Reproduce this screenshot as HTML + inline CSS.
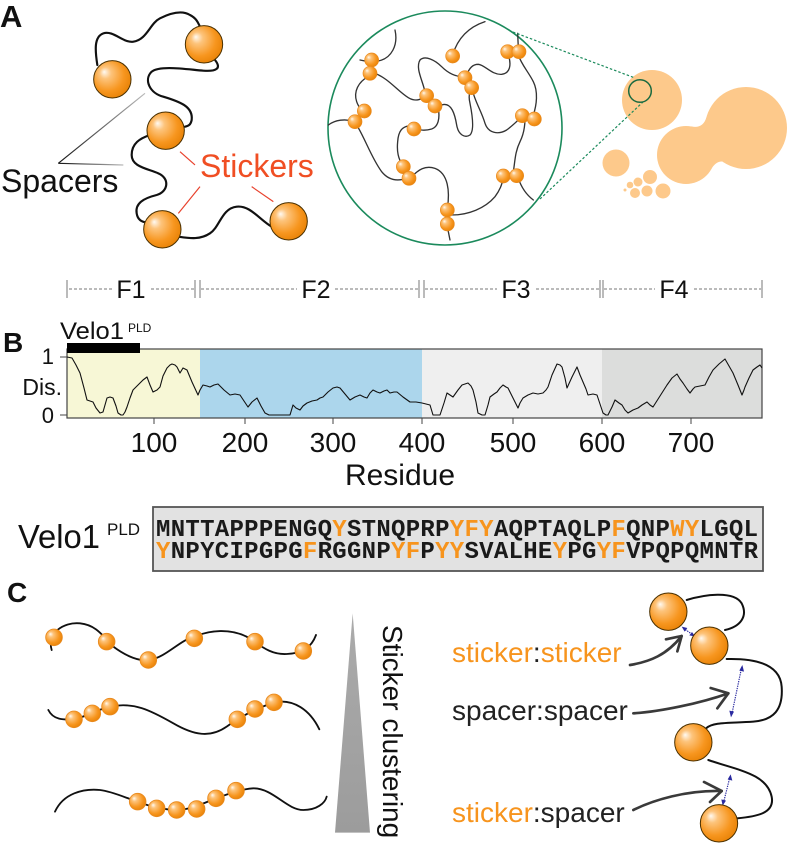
<!DOCTYPE html>
<html><head><meta charset="utf-8"><style>
html,body{margin:0;padding:0;background:#fff;}
svg{display:block;font-family:"Liberation Sans",sans-serif;}
text.mono{font-family:"Liberation Mono",monospace;font-weight:bold;}
</style></head><body>
<svg width="788" height="846" viewBox="0 0 788 846" xmlns="http://www.w3.org/2000/svg">
<defs>
<radialGradient id="sph" cx="0.42" cy="0.42" r="0.62" fx="0.28" fy="0.3">
<stop offset="0" stop-color="#fffaf2"/>
<stop offset="0.25" stop-color="#fdc47c"/>
<stop offset="0.7" stop-color="#f7961f"/>
<stop offset="1" stop-color="#e88206"/>
</radialGradient>
<linearGradient id="tri" x1="0" y1="0" x2="0" y2="1">
<stop offset="0" stop-color="#ababab"/>
<stop offset="1" stop-color="#9c9c9c"/>
</linearGradient>
<linearGradient id="spl1" gradientUnits="userSpaceOnUse" x1="175" y1="490" x2="435" y2="280">
<stop offset="0" stop-color="#111"/><stop offset="1" stop-color="#bbb"/>
</linearGradient>
<linearGradient id="spl2" gradientUnits="userSpaceOnUse" x1="175" y1="490" x2="370" y2="495">
<stop offset="0" stop-color="#111"/><stop offset="1" stop-color="#bbb"/>
</linearGradient>
</defs>

<!-- Panel letters -->
<text x="0" y="27" font-size="31" font-weight="bold" fill="#111">A</text>
<text x="3" y="352" font-size="28" font-weight="bold" fill="#111">B</text>
<text x="7" y="602" font-size="28" font-weight="bold" fill="#111">C</text>

<!-- Panel A left: chain -->
<g transform="scale(0.33333)">
<g fill="none" stroke="#111" stroke-width="6.5" stroke-linecap="round">
<path d="M 292,195 C 285,150 282,110 310,100 C 340,90 370,130 400,125 C 440,120 450,70 480,55 C 510,40 545,30 570,45 C 590,55 595,70 600,80"/>
<path d="M 645,180 C 665,205 650,215 610,212 C 560,208 480,195 455,215 C 430,240 450,280 490,290 C 540,305 580,320 575,360 C 572,375 565,378 555,380"/>
<path d="M 450,405 C 420,415 395,430 395,465 C 395,500 440,505 475,520 C 510,535 505,575 470,585 C 430,595 405,610 410,640 C 413,660 425,665 440,668"/>
<path d="M 535,710 C 570,715 600,720 630,700 C 660,680 665,625 710,620 C 750,615 780,660 815,680"/>
</g>
<line x1="175" y1="490" x2="435" y2="280" stroke="url(#spl1)" stroke-width="3.5"/>
<line x1="175" y1="490" x2="370" y2="495" stroke="url(#spl2)" stroke-width="3.5"/>
<g stroke="#e8412c" stroke-width="3.5">
<line x1="540" y1="455" x2="585" y2="495"/>
<line x1="600" y1="560" x2="535" y2="640"/>
<line x1="755" y1="560" x2="820" y2="605"/>
</g>
<g fill="url(#sph)" stroke="#4a3000" stroke-width="3">
<circle cx="612" cy="133" r="56"/>
<circle cx="337" cy="238" r="56"/>
<circle cx="497" cy="392" r="56"/>
<circle cx="487" cy="688" r="56"/>
<circle cx="866" cy="664" r="56"/>
</g>
</g>
<text x="1" y="192" font-size="32" fill="#111">Spacers</text>
<text x="200" y="177" font-size="32" fill="#f04e23">Stickers</text>

<!-- Panel A middle: network -->
<circle cx="445" cy="128" r="117" fill="none" stroke="#1b8a5c" stroke-width="1.6"/>
<g transform="translate(325,5) scale(0.33333)">
<g fill="none" stroke="#333" stroke-width="4" stroke-linecap="round">
<path d="M 210,75 C 220,120 200,160 160,168"/>
<path d="M 130,215 C 100,230 85,260 95,290 C 100,305 105,310 112,318"/>
<path d="M 90,350 C 60,340 30,345 10,360"/>
<path d="M 95,360 C 120,400 140,460 170,500 C 190,525 215,530 245,520"/>
<path d="M 150,205 C 190,220 220,260 250,278 C 270,290 285,285 300,275"/>
<path d="M 300,262 C 295,230 270,190 285,165 C 300,150 330,165 350,185 C 370,205 390,215 415,215"/>
<path d="M 340,310 C 345,340 340,365 320,372 C 300,378 285,375 270,372"/>
<path d="M 350,300 C 380,290 390,330 395,360 C 400,390 420,400 435,390 C 450,375 440,320 435,295 C 430,275 432,262 440,250"/>
<path d="M 260,362 C 230,362 220,380 218,410 C 215,440 220,460 232,480"/>
<path d="M 260,515 C 280,495 300,480 330,490 C 370,505 375,560 367,610"/>
<path d="M 380,630 C 430,630 480,610 510,575 C 525,555 530,540 535,520"/>
<path d="M 367,665 L 375,705"/>
<path d="M 580,520 C 590,550 605,570 625,585"/>
<path d="M 565,500 C 570,470 570,440 585,410 C 595,390 600,370 600,340"/>
<path d="M 625,330 C 635,300 640,260 625,230 C 610,200 590,180 580,150"/>
<path d="M 580,130 L 578,85"/>
<path d="M 550,150 C 560,180 555,205 530,208 C 500,210 480,180 460,178 C 440,178 430,195 425,212"/>
<path d="M 442,255 C 450,290 470,320 480,355 C 490,385 520,390 545,375 C 565,360 580,345 590,335"/>
<path d="M 383,150 C 395,110 420,70 480,50"/>
<path d="M 105,165 L 130,170"/>
</g>
<g fill="url(#sph)" stroke="#e88a20" stroke-width="2">
<circle cx="140" cy="165" r="21"/><circle cx="135" cy="205" r="21"/>
<circle cx="118" cy="318" r="21"/><circle cx="90" cy="350" r="21"/>
<circle cx="305" cy="272" r="21"/><circle cx="330" cy="303" r="21"/>
<circle cx="383" cy="153" r="21"/>
<circle cx="420" cy="218" r="21"/><circle cx="440" cy="248" r="21"/>
<circle cx="548" cy="140" r="21"/><circle cx="582" cy="140" r="21"/>
<circle cx="592" cy="332" r="21"/><circle cx="628" cy="342" r="21"/>
<circle cx="267" cy="372" r="21"/>
<circle cx="235" cy="485" r="21"/><circle cx="252" cy="520" r="21"/>
<circle cx="535" cy="513" r="21"/><circle cx="575" cy="512" r="21"/>
<circle cx="367" cy="615" r="21"/><circle cx="367" cy="657" r="21"/>
</g>
</g>

<!-- Droplets -->
<g fill="#fdc98b">
<circle cx="652" cy="100" r="30"/>
<circle cx="746" cy="128" r="41"/>
<circle cx="686" cy="155" r="29"/>
<path d="M 691,126.4 Q 703,129 706.4,117.4 L 722.5,161.6 Q 716,161 711,169.5 Z"/>
<circle cx="616" cy="163" r="13.5"/>
<circle cx="650" cy="177" r="7"/>
<circle cx="638" cy="182" r="4.5"/>
<circle cx="630" cy="185" r="3.3"/>
<circle cx="647" cy="191" r="5.5"/>
<circle cx="635" cy="193" r="5"/>
<circle cx="663" cy="191" r="7.5"/>
<circle cx="625" cy="190" r="1.5"/>
</g>
<g stroke="#1b8a5c" stroke-width="1.2" stroke-dasharray="2.5,2" fill="none">
<line x1="513" y1="32" x2="635" y2="78"/>
<line x1="540" y1="199" x2="643" y2="102"/>
</g>
<circle cx="640" cy="91" r="11.3" fill="none" stroke="#1b6a40" stroke-width="1.5"/>

<!-- Ruler -->
<g stroke="#777" stroke-width="1">
<line x1="67" y1="280" x2="67" y2="298"/>
<line x1="195" y1="280" x2="195" y2="298"/><line x1="200" y1="280" x2="200" y2="298"/>
<line x1="419" y1="280" x2="419" y2="298"/><line x1="424" y1="280" x2="424" y2="298"/>
<line x1="600" y1="280" x2="600" y2="298"/><line x1="603" y1="280" x2="603" y2="298"/>
<line x1="762" y1="280" x2="762" y2="298"/>
</g>
<g stroke="#777" stroke-width="1" stroke-dasharray="3,2">
<line x1="69" y1="289" x2="112" y2="289"/><line x1="151" y1="289" x2="194" y2="289"/>
<line x1="201" y1="289" x2="297" y2="289"/><line x1="335" y1="289" x2="418" y2="289"/>
<line x1="425" y1="289" x2="497" y2="289"/><line x1="536" y1="289" x2="599" y2="289"/>
<line x1="604" y1="289" x2="655" y2="289"/><line x1="694" y1="289" x2="761" y2="289"/>
</g>
<g font-size="25" fill="#111" text-anchor="middle">
<text x="131" y="298">F1</text>
<text x="316" y="298">F2</text>
<text x="516" y="298">F3</text>
<text x="674" y="298">F4</text>
</g>

<!-- Plot -->
<rect x="67" y="349" width="133" height="69" fill="#f7f7d6"/>
<rect x="200" y="349" width="222" height="69" fill="#acd6ec"/>
<rect x="422" y="349" width="180" height="69" fill="#efefef"/>
<rect x="602" y="349" width="160" height="69" fill="#dcdddc"/>
<rect x="67" y="349" width="695" height="69" fill="none" stroke="#444" stroke-width="1.2"/>
<polyline fill="none" stroke="#111" stroke-width="1.1" stroke-linejoin="round" points="67,357 72,358 76,365 80,373 84,388 87,400 90,401 93,402 96,408 100,413 103,412 107,398 110,397 113,398 116,406 118,413 121,415 123,415 125,412 127,407 130,398 133,390 137,386 140,383 143,380 147,377 150,385 153,392 157,390 160,387 163,376 167,368 170,365 172,364 175,365 177,367 180,373 183,368 185,369 187,370 192,382 198,395 200,390 203,385 207,386 210,387 214,385 218,384 224,390 230,395 235,394 240,395 244,401 248,407 252,402 257,398 261,406 265,413 269,415 273,415 280,415 290,415 293,405 296,408 300,410 303,406 307,403 312,401 317,400 320,398 323,397 328,392 333,388 337,387 340,388 345,394 350,400 355,397 360,395 364,397 367,398 370,393 373,390 377,392 380,393 384,391 387,390 390,393 394,392 397,392 403,397 410,402 416,402 422,403 426,404 430,405 433,415 436,415 440,415 444,403 447,393 450,395 453,397 458,390 462,385 465,384 468,383 471,386 473,390 476,402 478,413 482,415 485,415 488,405 490,397 494,394 497,392 500,388 503,385 506,387 508,388 513,398 518,408 520,403 523,398 528,395 533,393 538,394 543,393 546,390 548,387 552,375 557,364 560,365 562,367 565,378 567,388 572,377 577,367 580,375 583,382 586,389 588,395 593,394 597,395 600,404 603,413 606,415 608,415 612,407 615,400 619,403 622,405 625,410 628,413 633,410 638,408 642,405 647,402 650,405 653,407 660,396 667,385 672,378 677,374 680,379 683,383 687,389 690,393 693,389 695,387 700,386 705,385 709,377 713,370 719,364 725,359 729,366 733,373 738,385 742,395 744,390 745,387 749,378 753,370 757,367 760,365 762,368"/>
<g stroke="#444" stroke-width="1">
<line x1="60" y1="357" x2="67" y2="357"/><line x1="60" y1="415" x2="67" y2="415"/>
<line x1="154" y1="418" x2="154" y2="424"/><line x1="245" y1="418" x2="245" y2="424"/>
<line x1="333" y1="418" x2="333" y2="424"/><line x1="422" y1="418" x2="422" y2="424"/>
<line x1="513" y1="418" x2="513" y2="424"/><line x1="602" y1="418" x2="602" y2="424"/>
<line x1="691" y1="418" x2="691" y2="424"/>
</g>
<rect x="67" y="343" width="73" height="10" fill="#000"/>
<text x="60" y="339" font-size="24" fill="#111" textLength="64" lengthAdjust="spacingAndGlyphs">Velo1</text>
<text x="128" y="332" font-size="12" fill="#111">PLD</text>
<g font-size="22" fill="#111" text-anchor="end">
<text x="54" y="364">1</text>
<text x="54" y="423">0</text>
<text x="62" y="395" font-size="23">Dis.</text>
</g>
<g font-size="28" fill="#111" text-anchor="middle">
<text x="154" y="452">100</text>
<text x="245" y="452">200</text>
<text x="333" y="452">300</text>
<text x="422" y="452">400</text>
<text x="513" y="452">500</text>
<text x="602" y="452">600</text>
<text x="691" y="452">700</text>
<text x="400" y="485" font-size="30">Residue</text>
</g>

<!-- Sequence -->
<text x="18" y="548" font-size="33" fill="#111" textLength="82" lengthAdjust="spacingAndGlyphs">Velo1</text>
<text x="107" y="535" font-size="17" fill="#111">PLD</text>
<rect x="153" y="507" width="610" height="64" fill="#e2e2e2" stroke="#555" stroke-width="1.8"/>
<text class="mono" x="156" y="536" font-size="24" fill="#1a1a1a" textLength="602" lengthAdjust="spacing">MNTTAPPPENGQ<tspan fill="#f7941d">Y</tspan>STNQPRP<tspan fill="#f7941d">YFY</tspan>AQPTAQLP<tspan fill="#f7941d">F</tspan>QNP<tspan fill="#f7941d">WY</tspan>LGQL</text>
<text class="mono" x="156" y="558" font-size="24" fill="#1a1a1a" textLength="602" lengthAdjust="spacing"><tspan fill="#f7941d">Y</tspan>NPYCIPGPG<tspan fill="#f7941d">F</tspan>RGGNP<tspan fill="#f7941d">YF</tspan>P<tspan fill="#f7941d">YY</tspan>SVALHE<tspan fill="#f7941d">Y</tspan>PG<tspan fill="#f7941d">YF</tspan>VPQPQMNTR</text>

<!-- Panel C left -->
<g transform="translate(0,580) scale(0.33333)">
<g fill="none" stroke="#111" stroke-width="5.5" stroke-linecap="round">
<path d="M 155,210 C 140,160 190,125 240,130 C 290,135 310,170 340,200 C 380,230 420,245 450,240 C 500,230 540,180 583,170 C 630,150 690,145 740,170 C 780,195 810,225 860,222 C 910,220 935,200 948,165"/>
<path d="M 145,390 C 160,420 190,420 222,418 C 260,410 300,385 330,380 C 400,365 450,390 520,430 C 580,465 630,475 680,440 C 720,410 770,385 822,367 C 880,355 930,390 958,448"/>
<path d="M 165,695 C 190,640 250,625 300,630 C 340,635 380,655 413,665 C 450,680 500,690 530,690 C 570,690 610,670 648,655 C 690,640 720,628 760,625 C 820,625 860,690 910,690 C 950,690 975,670 980,650"/>
</g>
<g fill="url(#sph)" stroke="#e88a20" stroke-width="2.5">
<circle cx="162" cy="172" r="25"/><circle cx="320" cy="185" r="25"/><circle cx="445" cy="240" r="25"/>
<circle cx="583" cy="175" r="25"/><circle cx="765" cy="185" r="25"/><circle cx="910" cy="213" r="25"/>
<circle cx="222" cy="418" r="25"/><circle cx="277" cy="400" r="25"/><circle cx="330" cy="380" r="25"/>
<circle cx="712" cy="418" r="25"/><circle cx="765" cy="387" r="25"/><circle cx="822" cy="367" r="25"/>
<circle cx="413" cy="665" r="25"/><circle cx="470" cy="685" r="25"/><circle cx="530" cy="690" r="25"/>
<circle cx="590" cy="687" r="25"/><circle cx="648" cy="655" r="25"/><circle cx="708" cy="632" r="25"/>
</g>
<polygon points="1058,100 1110,758 1005,758" fill="url(#tri)"/>
</g>
<text transform="translate(383,625) rotate(90)" font-size="28" fill="#111">Sticker clustering</text>

<!-- Panel C right -->
<g transform="translate(420,580) scale(0.33333)">
<g fill="none" stroke="#111" stroke-width="6" stroke-linecap="round">
<path d="M 800,60 C 850,45 940,30 965,70 C 985,110 960,140 915,150"/>
<path d="M 920,237 C 1000,235 1080,250 1085,320 C 1090,390 1060,420 1000,425 C 930,430 880,425 858,445"/>
<path d="M 865,540 C 950,570 1040,580 1055,650 C 1065,700 1010,710 950,715"/>
</g>
<g fill="none" stroke="#3a3a3a" stroke-linecap="round" stroke-linejoin="round">
<path d="M 630,255 C 690,245 740,225 785,168" stroke-width="8"/>
<path d="M 738,178 L 785,168 L 772,214" stroke-width="8"/>
<path d="M 640,400 C 720,395 840,370 925,340" stroke-width="8"/>
<path d="M 872,324 L 925,340 L 892,385" stroke-width="8"/>
<path d="M 640,690 C 700,660 800,630 905,633" stroke-width="8"/>
<path d="M 852,606 L 905,633 L 870,666" stroke-width="8"/>
</g>
<g stroke="#2a2aa0" stroke-width="3.5" fill="none" stroke-dasharray="4,3">
<line x1="790" y1="145" x2="820" y2="165"/>
<line x1="965" y1="262" x2="935" y2="405"/>
<line x1="930" y1="590" x2="910" y2="670"/>
</g>
<g fill="#2a2aa0">
<polygon points="785,140 802,144 794,155"/>
<polygon points="826,170 808,166 816,156"/>
<polygon points="967,255 972,275 958,272"/>
<polygon points="933,412 928,392 942,395"/>
<polygon points="932,583 937,602 923,598"/>
<polygon points="908,677 904,658 918,662"/>
</g>
<g fill="url(#sph)" stroke="#4a3000" stroke-width="3">
<circle cx="745" cy="95" r="56"/>
<circle cx="868" cy="197" r="56"/>
<circle cx="820" cy="487" r="56"/>
<circle cx="897" cy="730" r="56"/>
</g>
</g>
<g font-size="28">
<text x="452" y="662"><tspan fill="#f7941d">sticker</tspan><tspan fill="#222">:</tspan><tspan fill="#f7941d">sticker</tspan></text>
<text x="452" y="720" fill="#222">spacer:spacer</text>
<text x="452" y="822"><tspan fill="#f7941d">sticker</tspan><tspan fill="#222">:spacer</tspan></text>
</g>
</svg>
</body></html>
